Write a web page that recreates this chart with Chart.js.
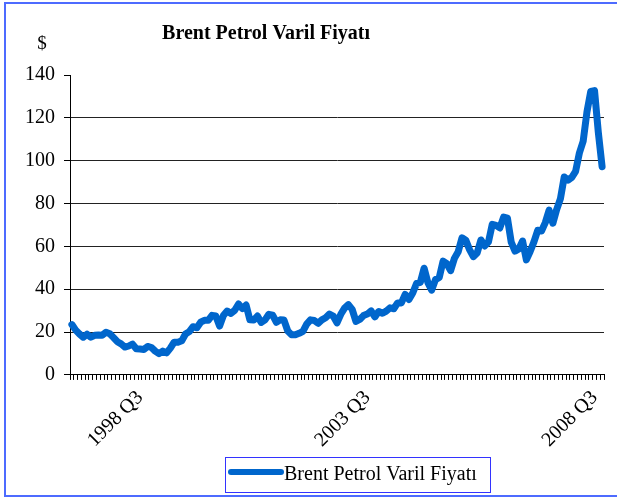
<!DOCTYPE html>
<html>
<head>
<meta charset="utf-8">
<script src="https://cdn.jsdelivr.net/npm/chart.js@4/dist/chart.umd.min.js"></script>
<style>
  html, body { margin: 0; padding: 0; background: #fff; overflow: hidden; }
  #frame {
    position: absolute; left: 4px; top: 2px; width: 613px; height: 495px;
    border: 2px solid #4d6bff; border-right: none; box-sizing: border-box;
  }
  #wrap { position: absolute; left: 0; top: 0; width: 617px; height: 500px; }
</style>
</head>
<body>
<div id="frame"></div>
<div id="wrap"><canvas id="myChart"></canvas></div>
<script>
// monthly Brent prices, Jan 1997 .. Sep 2008 (USD/barrel)
const years = [1997, 1998, 1999, 2000, 2001, 2002, 2003, 2004, 2005, 2006, 2007, 2008];
const prices = [
    23.5, 20.9, 19.1, 17.6, 19.0, 17.6, 18.5, 18.6, 18.5, 19.9, 19.2, 17.4,
    15.5, 14.5, 13.0, 13.5, 14.4, 12.2, 12.1, 11.9, 13.3, 12.8, 11.1, 9.9,
    11.1, 10.3, 12.5, 15.3, 15.2, 15.9, 19.1, 20.2, 22.5, 22.0, 24.6, 25.5,
    25.5, 27.8, 27.5, 22.8, 27.7, 29.8, 28.7, 30.2, 33.1, 31.0, 32.6, 25.7,
    25.6, 27.5, 24.5, 25.7, 28.3, 27.9, 24.6, 25.7, 25.6, 20.5, 18.8, 18.7,
    19.4, 20.3, 23.7, 25.7, 25.4, 24.1, 25.7, 26.7, 28.4, 27.5, 24.3, 28.3,
    31.2, 32.8, 30.6, 25.0, 25.9, 27.7, 28.4, 29.9, 27.1, 29.6, 28.8, 29.8,
    31.3, 30.9, 33.6, 33.6, 37.6, 35.2, 38.2, 42.7, 43.2, 49.8, 43.1, 39.6,
    44.5, 45.5, 53.1, 51.9, 48.7, 54.4, 57.5, 64.0, 62.9, 58.5, 55.2, 56.9,
    63.0, 60.2, 62.1, 70.3, 69.8, 68.6, 73.7, 73.2, 62.0, 57.8, 58.8, 62.5,
    53.7, 57.6, 62.1, 67.5, 67.2, 71.1, 76.9, 70.8, 77.2, 82.3, 92.4, 90.9,
    92.2, 95.0, 103.6, 109.1, 122.8, 132.3, 132.7, 113.2, 97.2
];
const shownLabels = ['1998 Q3', '2003 Q3', '2008 Q3'];
const title = 'Brent Petrol Varil Fiyatı';
const seriesName = 'Brent Petrol Varil Fiyatı';

const labels = [];
years.forEach(y => {
    for (let m = 1; m <= 12; m++) labels.push(y + ' Q' + Math.ceil(m / 3));
});
labels.length = prices.length;

const serif = 'Liberation Serif';
const blue = '#0066cc';

// title, "$" unit and boxed legend, placed like the original
const extras = {
    id: 'extras',
    afterDraw(chart) {
        const ctx = chart.ctx;
        ctx.save();
        ctx.fillStyle = '#000';
        ctx.textBaseline = 'middle';
        ctx.textAlign = 'center';
        ctx.font = 'bold 20px "' + serif + '"';
        ctx.fillText(title, 266, 34);
        ctx.font = '19px "' + serif + '"';
        ctx.fillText('$', 42, 44);

        ctx.strokeStyle = '#3333ff';
        ctx.lineWidth = 1;
        ctx.strokeRect(225.5, 457.5, 265, 35);
        ctx.strokeStyle = chart.data.datasets[0].borderColor;
        ctx.lineWidth = 6;
        ctx.lineCap = 'round';
        ctx.beginPath();
        ctx.moveTo(231, 472);
        ctx.lineTo(281, 472);
        ctx.stroke();
        ctx.textAlign = 'left';
        ctx.font = '20px "' + serif + '"';
        ctx.fillText(chart.data.datasets[0].label, 284, 475);
        ctx.restore();
    }
};

const data = {
    labels: labels,
    datasets: [{
        label: seriesName,
        data: prices,
        borderColor: blue,
        backgroundColor: blue,
        borderWidth: 7,
        pointRadius: 0,
        tension: 0,
        borderJoinStyle: 'round',
        borderCapStyle: 'round'
    }]
};

const config = {
    type: 'line',
    data: data,
    plugins: [extras],
    options: {
        responsive: false,
        animation: false,
        layout: { padding: { left: 16, right: 13, top: 75, bottom: 42 } },
        plugins: {
            title: { display: false },
            legend: { display: false },
            tooltip: { enabled: false }
        },
        scales: {
            x: {
                offset: true,
                afterFit: s => { s.paddingRight = 0; },
                grid: {
                    offset: true,
                    drawOnChartArea: false,
                    drawTicks: true,
                    tickLength: 5,
                    tickColor: '#000'
                },
                border: { display: true, color: '#000', width: 1 },
                ticks: {
                    autoSkip: false,
                    maxRotation: 45,
                    minRotation: 45,
                    color: '#000',
                    font: { family: serif, size: 20 },
                    padding: 6,
                    callback: function (v, i) {
                        const l = labels[i];
                        return (i % 60 === 18 && shownLabels.includes(l)) ? l : '';
                    }
                }
            },
            y: {
                min: 0,
                max: 140,
                grid: {
                    color: c => (c.tick.value === 0 || c.tick.value === 140) ? 'rgba(0,0,0,0)' : '#222',
                    tickColor: '#000',
                    tickLength: 6,
                    lineWidth: 1
                },
                border: { display: true, color: '#000', width: 1 },
                ticks: {
                    stepSize: 20,
                    color: '#000',
                    font: { family: serif, size: 20 },
                    padding: 9
                }
            }
        }
    }
};

const cv = document.getElementById('myChart');
cv.width = 617;
cv.height = 500;
const myChart = new Chart(cv, config);
</script>
</body>
</html>
